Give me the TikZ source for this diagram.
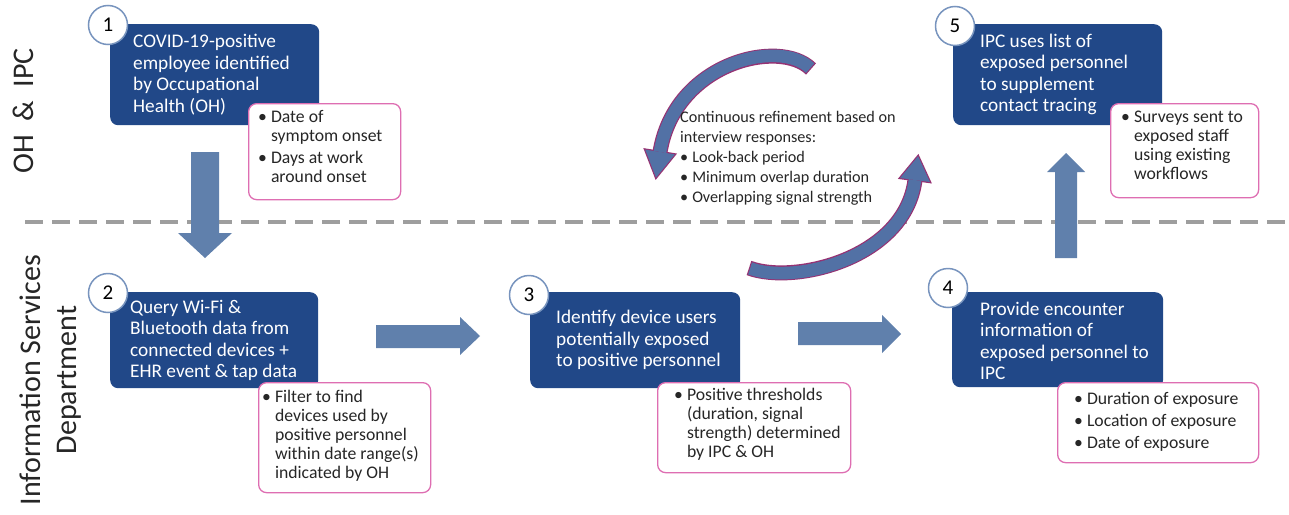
\documentclass[tikz,border=0pt]{standalone}
\usepackage{fontspec}
\setmainfont{Carlito}
\definecolor{boxblue}{RGB}{33,72,136}
\definecolor{arrowblue}{RGB}{96,128,172}
\definecolor{pinkc}{RGB}{222,110,178}
\definecolor{circc}{RGB}{120,148,190}
\definecolor{arcblue}{RGB}{82,113,165}
\definecolor{arcpurple}{RGB}{150,50,115}
\definecolor{dashgray}{RGB}{158,158,158}
\begin{document}
\begin{tikzpicture}[x=1pt,y=-1pt,
  bluebox/.style={fill=boxblue, rounded corners=8pt, inner sep=0pt, anchor=north west},
  boxtext/.style={text=white, font=\fontsize{19.3}{21.5}\selectfont, align=left, anchor=west, inner sep=0pt},
  pinkbox/.style={draw=pinkc, line width=1.3pt, fill=white, rounded corners=8pt, inner sep=0pt, anchor=north west},
  pinktext/.style={font=\fontsize{17.7}{19}\selectfont, anchor=west, inner sep=0pt, text=black!85},
  numc/.style={circle, draw=circc, line width=1.5pt, fill=white, minimum size=39pt, inner sep=0pt, font=\fontsize{21}{21}\selectfont},
  blockarrow/.style={fill=arrowblue},
  dashline/.style={draw=dashgray, line width=4pt, dash pattern=on 18pt off 9pt},
  arcedge/.style={draw=arcpurple, line width=15pt},
  arcbody/.style={draw=arcblue, line width=12.6pt, shorten <=1.2pt},
  lanelabel/.style={rotate=90, font=\fontsize{30}{36}\selectfont, align=center, inner sep=0pt, text=black!85}
]
\useasboundingbox (0,0) rectangle (1289,514);
\fill[white] (0,0) rectangle (1289,514);

% lane separator
\draw[dashline] (25,222) -- (1289,222);

% lane labels
\node[lanelabel] (lane1) at (23,111) {OH~~\&~~IPC};
\node[lanelabel] (lane2) at (51,380) {Information Services\\Department};

% block arrows
\fill[blockarrow] (191,152) -- (219,152) -- (219,233) -- (232,233) -- (205,258) -- (178,233) -- (191,233) -- cycle;
\fill[blockarrow] (376,325) -- (460,325) -- (460,317) -- (480,336) -- (460,355) -- (460,348) -- (376,348) -- cycle;
\fill[blockarrow] (798,322) -- (882,322) -- (882,315) -- (901,334) -- (882,353) -- (882,345) -- (798,345) -- cycle;
\fill[blockarrow] (1055,258) -- (1055,172) -- (1047,172) -- (1066,153) -- (1085,172) -- (1077,172) -- (1077,258) -- cycle;

% circular refinement arrows
\coordinate (ua) at (811,69);
\coordinate (ub) at (660,152);
\coordinate (la) at (749,268);
\coordinate (lb) at (915,180);
\draw[arcedge] (ua) .. controls (780,38) and (675,62) .. (ub);
\draw[arcedge] (la) .. controls (795,285) and (905,258) .. (lb);
\filldraw[fill=arcpurple, draw=arcpurple, line width=2.4pt, line join=miter] (674.8,154.4) -- (656,177.6) -- (645.2,149.6) -- cycle;
\filldraw[fill=arcpurple, draw=arcpurple, line width=2.4pt, line join=miter] (929.9,182) -- (918.1,156.2) -- (900.1,178) -- cycle;
\draw[arcbody] (ua) .. controls (780,38) and (675,62) .. (ub);
\draw[arcbody] (la) .. controls (795,285) and (905,258) .. (lb);
\fill[arcblue] (674.8,154.4) -- (656,177.6) -- (645.2,149.6) -- cycle;
\fill[arcblue] (929.9,182) -- (918.1,156.2) -- (900.1,178) -- cycle;

\node[font=\fontsize{16.2}{20}\selectfont, anchor=west, inner sep=0pt, text=black!85] (refine) at (680,158)
  {\begin{tabular}{@{}l@{\hspace{4pt}}l@{}}
  \multicolumn{2}{@{}l@{}}{Continuous refinement based on}\\
  \multicolumn{2}{@{}l@{}}{interview responses:}\\
  \textbullet & Look-back period\\
  \textbullet & Minimum overlap duration\\
  \textbullet & Overlapping signal strength
  \end{tabular}};

% blue step boxes
\node[bluebox, minimum width=209pt, minimum height=101pt] (b1) at (110,24) {};
\node[bluebox, minimum width=208pt, minimum height=96pt] (b2) at (110,292) {};
\node[bluebox, minimum width=210pt, minimum height=96pt] (b3) at (530,292) {};
\node[bluebox, minimum width=211pt, minimum height=95pt] (b4) at (952,292) {};
\node[bluebox, minimum width=209pt, minimum height=101pt] (b5) at (953,24) {};

\node[boxtext] (t1) at ([xshift=23pt]b1.west) {COVID-19-positive\\employee identified\\by Occupational\\Health (OH)};
\node[boxtext] (t2) at ([xshift=20pt]b2.west) {Query Wi-Fi \&\\Bluetooth data from\\connected devices +\\EHR event \& tap data};
\node[boxtext] (t3) at ([xshift=26pt]b3.west) {Identify device users\\potentially exposed\\to positive personnel};
\node[boxtext] (t4) at ([xshift=28pt,yshift=-1pt]b4.west) {Provide encounter\\information of\\exposed personnel to\\IPC};
\node[boxtext] (t5) at ([xshift=27pt]b5.west) {IPC uses list of\\exposed personnel\\to supplement\\contact tracing};

% pink detail boxes
\node[pinkbox, minimum width=152pt, minimum height=96pt] (p1) at (248,103) {};
\node[pinkbox, minimum width=172pt, minimum height=110pt] (p2) at (258,382) {};
\node[pinkbox, minimum width=193pt, minimum height=90pt] (p3) at (657,382) {};
\node[pinkbox, minimum width=201pt, minimum height=80pt] (p4) at (1057,382) {};
\node[pinkbox, minimum width=148pt, minimum height=94pt] (p5) at (1110,103) {};

\node[pinktext] (q1) at ([xshift=10pt,yshift=3pt]p1.west)
  {\begin{tabular}{@{}l@{\hspace{4pt}}l@{}}\textbullet & Date of\\ & symptom onset\\[3pt] \textbullet & Days at work\\ & around onset\end{tabular}};
\node[pinktext] (q2) at ([xshift=4pt,yshift=1pt]p2.west)
  {\begin{tabular}{@{}l@{\hspace{4pt}}l@{}}\textbullet & Filter to find\\ & devices used by\\ & positive personnel\\ & within date range(s)\\ & indicated by OH\end{tabular}};
\node[pinktext] (q3) at ([xshift=17pt,yshift=2pt]p3.west)
  {\begin{tabular}{@{}l@{\hspace{4pt}}l@{}}\textbullet & Positive thresholds\\ & (duration, signal\\ & strength) determined\\ & by IPC \& OH\end{tabular}};
\node[pinktext] (q4) at ([xshift=17pt]p4.west)
  {\begin{tabular}{@{}l@{\hspace{4pt}}l@{}}\textbullet & Duration of exposure\\[3pt] \textbullet & Location of exposure\\[3pt] \textbullet & Date of exposure\end{tabular}};
\node[pinktext] (q5) at ([xshift=11pt,yshift=3pt]p5.west)
  {\begin{tabular}{@{}l@{\hspace{4pt}}l@{}}\textbullet & Surveys sent to\\ & exposed staff\\ & using existing\\ & workflows\end{tabular}};

% step numbers
\node[numc] (n1) at (108,25) {1};
\node[numc] (n2) at (108,293) {2};
\node[numc] (n3) at (529,295) {3};
\node[numc] (n4) at (948,288) {4};
\node[numc] (n5) at (955,26) {5};
\end{tikzpicture}
\end{document}
